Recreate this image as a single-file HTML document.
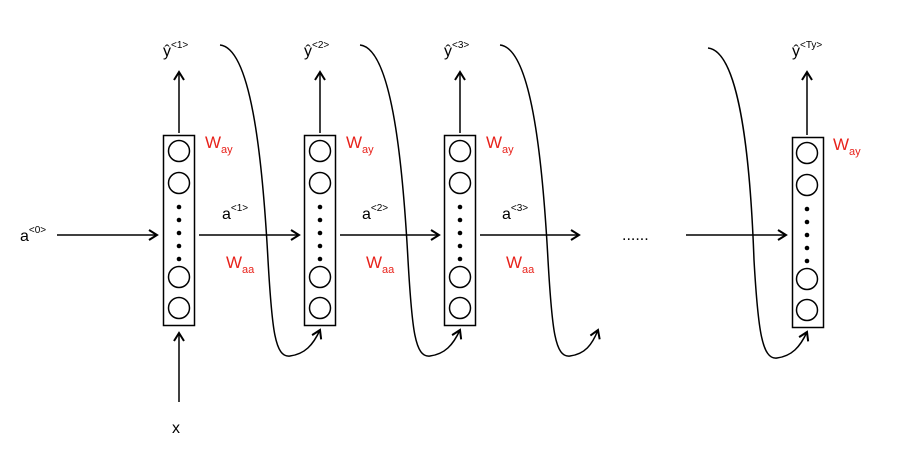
<!DOCTYPE html>
<html><head><style>
body{margin:0;background:#fff;}
svg{display:block;font-family:"Liberation Sans",sans-serif;}
</style></head><body>
<svg width="900" height="449" viewBox="0 0 900 449">
<defs>
<marker id="ah" markerWidth="12" markerHeight="12" refX="9" refY="6" orient="auto" markerUnits="userSpaceOnUse">
<path d="M1,1 L9,6 L1,11" fill="none" stroke="#000" stroke-width="2"/>
</marker>
</defs>
<g stroke="#000" stroke-width="1.5" fill="none">
<!-- boxes -->
<g id="b1"><rect x="163.5" y="135.5" width="31" height="190"/></g>
<rect x="304.5" y="135.5" width="31" height="190"/>
<rect x="444.5" y="135.5" width="31" height="190"/>
<rect x="792.5" y="137.5" width="31" height="190"/>
</g>
<g stroke="#000" stroke-width="1.5" fill="none">
<circle cx="179" cy="151" r="10.5"/><circle cx="179" cy="183" r="10.5"/><circle cx="179" cy="277" r="10.5"/><circle cx="179" cy="308" r="10.5"/>
<circle cx="320" cy="151" r="10.5"/><circle cx="320" cy="183" r="10.5"/><circle cx="320" cy="277" r="10.5"/><circle cx="320" cy="308" r="10.5"/>
<circle cx="460" cy="151" r="10.5"/><circle cx="460" cy="183" r="10.5"/><circle cx="460" cy="277" r="10.5"/><circle cx="460" cy="308" r="10.5"/>
<circle cx="807" cy="153" r="10.5"/><circle cx="807" cy="185" r="10.5"/><circle cx="807" cy="279" r="10.5"/><circle cx="807" cy="310" r="10.5"/>
</g>
<g fill="#000">
<circle cx="179" cy="207" r="2.3"/><circle cx="179" cy="220" r="2.3"/><circle cx="179" cy="233" r="2.3"/><circle cx="179" cy="246" r="2.3"/><circle cx="179" cy="259" r="2.3"/>
<circle cx="320" cy="207" r="2.3"/><circle cx="320" cy="220" r="2.3"/><circle cx="320" cy="233" r="2.3"/><circle cx="320" cy="246" r="2.3"/><circle cx="320" cy="259" r="2.3"/>
<circle cx="460" cy="207" r="2.3"/><circle cx="460" cy="220" r="2.3"/><circle cx="460" cy="233" r="2.3"/><circle cx="460" cy="246" r="2.3"/><circle cx="460" cy="259" r="2.3"/>
<circle cx="807" cy="209" r="2.3"/><circle cx="807" cy="222" r="2.3"/><circle cx="807" cy="235" r="2.3"/><circle cx="807" cy="248" r="2.3"/><circle cx="807" cy="261" r="2.3"/>
</g>
<g stroke="#000" stroke-width="1.5" fill="none" marker-end="url(#ah)">
<line x1="57" y1="235" x2="157" y2="235"/>
<line x1="199" y1="235" x2="299" y2="235"/>
<line x1="340" y1="235" x2="439" y2="235"/>
<line x1="480" y1="235" x2="579" y2="235"/>
<line x1="686" y1="235" x2="786" y2="235"/>
<line x1="179" y1="133" x2="179" y2="72"/>
<line x1="320" y1="133" x2="320" y2="72"/>
<line x1="460" y1="133" x2="460" y2="72"/>
<line x1="807" y1="135" x2="807" y2="72"/>
<line x1="179" y1="402" x2="179" y2="333"/>
<path d="M220,45 C250,48 262,150 268,260 C272,330 275,358 290,356 C305,354 313,345 320,330"/>
<path d="M360,45 C390,48 402,150 408,260 C412,330 415,358 430,356 C445,354 453,345 460,330"/>
<path d="M500,45 C530,48 542,150 548,260 C552,330 555,358 570,356 C585,354 592,345 598,330"/>
<path d="M708,48 C738,51 750,150 754,260 C758,330 762,360 777,358 C792,356 800,347 807,332"/>
</g>
<g font-size="16" fill="#000">
<text x="163" y="56">ŷ<tspan font-size="10" dy="-8">&lt;1&gt;</tspan></text>
<text x="304" y="56">ŷ<tspan font-size="10" dy="-8">&lt;2&gt;</tspan></text>
<text x="444" y="56">ŷ<tspan font-size="10" dy="-8">&lt;3&gt;</tspan></text>
<text x="792" y="56">ŷ<tspan font-size="10" dy="-8">&lt;Ty&gt;</tspan></text>
<text x="20" y="241">a<tspan font-size="10" dy="-8">&lt;0&gt;</tspan></text>
<text x="222" y="219">a<tspan font-size="10" dy="-8">&lt;1&gt;</tspan></text>
<text x="362" y="219">a<tspan font-size="10" dy="-8">&lt;2&gt;</tspan></text>
<text x="502" y="219">a<tspan font-size="10" dy="-8">&lt;3&gt;</tspan></text>
<text x="622" y="240">......</text>
<text x="172" y="433">x</text>
</g>
<g font-size="17" fill="#e8231c">
<text x="205" y="148">W<tspan font-size="11" dy="5">ay</tspan></text>
<text x="346" y="148">W<tspan font-size="11" dy="5">ay</tspan></text>
<text x="486" y="148">W<tspan font-size="11" dy="5">ay</tspan></text>
<text x="833" y="150">W<tspan font-size="11" dy="5">ay</tspan></text>
<text x="226" y="268">W<tspan font-size="11" dy="5">aa</tspan></text>
<text x="366" y="268">W<tspan font-size="11" dy="5">aa</tspan></text>
<text x="506" y="268">W<tspan font-size="11" dy="5">aa</tspan></text>
</g>
</svg>
</body></html>
